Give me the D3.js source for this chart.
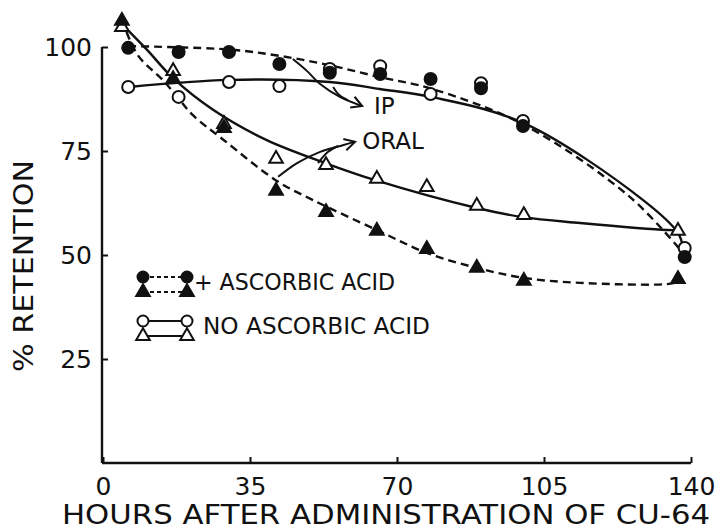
<!DOCTYPE html>
<html><head><meta charset="utf-8">
<script src="https://cdn.jsdelivr.net/npm/d3@7/dist/d3.min.js"></script>
<style>
html,body{margin:0;padding:0;background:#fff;}
svg{display:block;}
text{font-family:"DejaVu Sans",sans-serif;fill:#111;}
</style></head>
<body><svg id="c" width="722" height="531"></svg>
<script>
// ---- data ----
const xTicks = [0, 35, 70, 105, 140];
const yTicks = [25, 50, 75, 100];

// IP, + ascorbic acid (filled circles)
const ipAsc = [[6,99.8],[18,98.8],[30,98.8],[42,95.9],[54,93.8],[66,93.5],[78,92.3],[90,90.1],[100,81.0],[138.5,49.5]];
// IP, no ascorbic acid (open circles)
const ipNo = [[6,90.4],[18,88.0],[30,91.6],[42,90.6],[54,94.7],[66,95.4],[78,88.7],[90,91.3],[100,82.2],[138.5,51.7]];
// ORAL, + ascorbic acid (filled triangles)
const oralAsc = [[4.5,106.3],[16.7,92.3],[28.8,80.5],[41.2,65.4],[53.1,60.3],[65.2,55.8],[77.1,51.4],[89,46.9],[100.2,43.8],[136.9,44.2]];
// ORAL, no ascorbic acid (open triangles)
const oralNo = [[4.5,104.8],[16.7,94.2],[28.8,81.5],[41.2,73.1],[53.1,71.6],[65.2,68.3],[77.1,66.3],[89,61.8],[100.2,59.6],[136.9,55.8]];

// fitted curves drawn in the figure
const fitIpAsc = [[6,100.2],[30,99.4],[41.9,97.9],[54,95.6],[65.7,92.8],[78.1,90.0],[100.2,81.3],[125.5,63.9],[138.1,50.5]];
const fitIpNo = [[6.2,90.4],[30,92.1],[54,91.6],[65.9,89.9],[78.1,88.0],[100.2,81.7],[128.6,63.2],[136.9,55.3],[138.1,51.7]];
const fitOralAsc = [[4.5,106.5],[8.3,98],[14.3,92],[18.3,87.2],[21.4,83.6],[28.8,77.6],[41.4,67.8],[50,63.2],[65.2,56],[77.1,50.5],[89,46.9],[100.2,44.5],[113.6,43.3],[134.3,43.0],[136.9,43.5]];
const fitOralNo = [[4.5,105.5],[10.5,99.3],[16.7,92.5],[26.2,84.9],[39,77.6],[52.9,72.1],[64.8,68.0],[89,61.3],[100,59.1],[113.6,57.7],[134.3,56.0],[136.9,56.0]];

// annotation arrows (in data units)
const arrowIpA = [[45.2,97.1],[48.6,94.2],[51.7,91.1],[56.4,88.0],[61.7,85.8]];
const arrowIpB = [[54.8,90.4],[56.2,88.5],[58.3,87.2]];
const ipLabel = {x:64.5, y:83.8, text:"IP"};
const arrowOralA = [[41.7,68.8],[46.2,72.1],[51.7,74.8],[57.1,76.4],[60.0,77.2]];
const arrowOralB = [[51.2,72.1],[53.6,74.8],[56.0,76.2]];
const oralLabel = {x:61.7, y:75.5, text:"ORAL"};

const legendRows = [
  {label:"+ ASCORBIC ACID", filled:true},
  {label:"NO ASCORBIC ACID", filled:false}
];
const xTitle = "HOURS AFTER ADMINISTRATION OF CU-64";
const yTitle = "% RETENTION";

// ---- drawing ----
const svg = d3.select("#c");
const x = d3.scaleLinear().domain([0,140]).range([103,691]);
const y = d3.scaleLinear().domain([0,100]).range([463,47]);
const ink = "#111";

// axes
const xAxis = svg.append("g").attr("transform","translate(0,463)")
  .call(d3.axisBottom(x).tickValues(xTicks).tickSizeInner(-6).tickSizeOuter(0).tickPadding(14));
const yAxis = svg.append("g").attr("transform","translate(102,0)")
  .call(d3.axisLeft(y).tickValues(yTicks).tickSizeInner(-6).tickSizeOuter(0).tickPadding(10));
[xAxis,yAxis].forEach(g=>{
  g.select(".domain").attr("stroke",ink).attr("stroke-width",2.4);
  g.selectAll(".tick line").attr("stroke",ink).attr("stroke-width",2);
  g.selectAll(".tick text").style("font-family","'DejaVu Sans',sans-serif").style("font-size","25px").attr("fill",ink);
});
yAxis.select(".domain").attr("d",`M0,${y(0)}V${y(100)}`);
xAxis.select(".domain").attr("d",`M${x(0)-1},0H${x(140)}`);

// titles
svg.append("text").attr("x",386).attr("y",524).attr("text-anchor","middle")
  .attr("textLength",648).attr("lengthAdjust","spacingAndGlyphs")
  .style("font-size","26px").text(xTitle);
svg.append("text").attr("transform","translate(33,266) rotate(-90)").attr("text-anchor","middle")
  .attr("textLength",212).attr("lengthAdjust","spacingAndGlyphs")
  .style("font-size","27px").text(yTitle);

// curves
const line = d3.line().x(d=>x(d[0])).y(d=>y(d[1])).curve(d3.curveCatmullRom.alpha(0.5));
function curve(data,dashed){
  svg.append("path").attr("d",line(data)).attr("fill","none").attr("stroke",ink)
    .attr("stroke-width",2.4).attr("stroke-dasharray",dashed?"8,5":null);
}
curve(fitIpAsc,true);
curve(fitIpNo,false);
curve(fitOralAsc,true);
curve(fitOralNo,false);

// markers
const tri = d3.symbol().type(d3.symbolTriangle).size(80);
function circles(data,filled){
  svg.append("g").selectAll("circle").data(data).join("circle")
    .attr("cx",d=>x(d[0])).attr("cy",d=>y(d[1])).attr("r",6)
    .attr("fill",filled?ink:"#fff").attr("stroke",ink).attr("stroke-width",2);
}
function triangles(data,filled){
  svg.append("g").selectAll("path").data(data).join("path")
    .attr("d",tri).attr("transform",d=>`translate(${x(d[0])},${y(d[1])})`)
    .attr("fill",filled?ink:"#fff").attr("stroke",ink).attr("stroke-width",2).attr("stroke-linejoin","miter");
}
circles(ipNo,false);
circles(ipAsc,true);
triangles(oralNo,false);
triangles(oralAsc,true);

// annotations
const aLine = d3.line().x(d=>x(d[0])).y(d=>y(d[1])).curve(d3.curveCatmullRom);
function arrow(main,branch){
  svg.append("path").attr("d",aLine(main)).attr("fill","none").attr("stroke",ink).attr("stroke-width",2);
  svg.append("path").attr("d",aLine(branch)).attr("fill","none").attr("stroke",ink).attr("stroke-width",2);
  const n=main.length, p=main[n-1], q=main[n-2];
  const px=x(p[0]), py=y(p[1]), qx=x(q[0]), qy=y(q[1]);
  const ang=Math.atan2(py-qy,px-qx), L=12, w=0.5;
  const a1=[px-L*Math.cos(ang-w), py-L*Math.sin(ang-w)];
  const a2=[px-L*Math.cos(ang+w), py-L*Math.sin(ang+w)];
  svg.append("path").attr("d",`M${a1}L${px},${py}L${a2}`).attr("fill","none").attr("stroke",ink).attr("stroke-width",2);
}
arrow(arrowIpA,arrowIpB);
arrow(arrowOralA,arrowOralB);
svg.append("text").attr("x",x(ipLabel.x)).attr("y",y(ipLabel.y)).style("font-size","23px").text(ipLabel.text);
svg.append("text").attr("x",x(oralLabel.x)).attr("y",y(oralLabel.y)).style("font-size","23px").text(oralLabel.text);

// legend
const lg = svg.append("g");
legendRows.forEach((r,i)=>{
  const y0 = 277 + i*44;
  const dash = r.filled?"4,3":null;
  lg.append("line").attr("x1",143).attr("x2",187).attr("y1",y0).attr("y2",y0)
    .attr("stroke",ink).attr("stroke-width",2).attr("stroke-dasharray",dash);
  lg.append("line").attr("x1",143).attr("x2",187).attr("y1",y0+15).attr("y2",y0+15)
    .attr("stroke",ink).attr("stroke-width",2).attr("stroke-dasharray",dash);
  [143,187].forEach(cx=>{
    lg.append("circle").attr("cx",cx).attr("cy",y0).attr("r",5.5)
      .attr("fill",r.filled?ink:"#fff").attr("stroke",ink).attr("stroke-width",2);
    lg.append("path").attr("d",tri).attr("transform",`translate(${cx},${y0+15})`)
      .attr("fill",r.filled?ink:"#fff").attr("stroke",ink).attr("stroke-width",2);
  });
  lg.append("text").attr("x",r.filled?194:203).attr("y",y0+13).style("font-size","23px")
    .attr("textLength",r.filled?201:227).attr("lengthAdjust","spacingAndGlyphs").text(r.label);
});
</script></body></html>
